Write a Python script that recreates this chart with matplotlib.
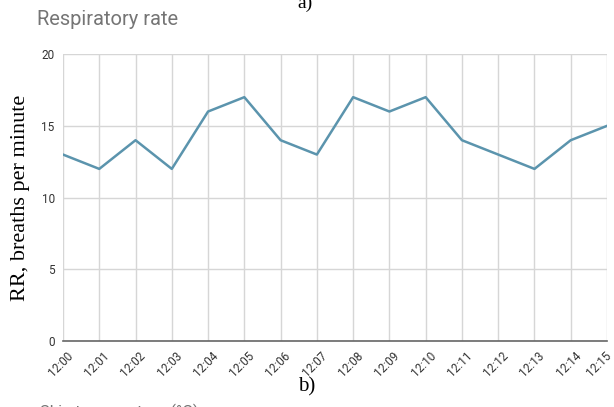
import matplotlib
matplotlib.use("Agg")
import matplotlib.pyplot as plt
from matplotlib.transforms import ScaledTranslation

# minute-by-minute respiratory rate
times = ["12:00", "12:01", "12:02", "12:03", "12:04", "12:05", "12:06", "12:07",
         "12:08", "12:09", "12:10", "12:11", "12:12", "12:13", "12:14", "12:15"]
rr = [13, 12, 14, 12, 16, 17, 14, 13, 17, 16, 17, 14, 13, 12, 14, 15]
yticks = [0, 5, 10, 15, 20]

fig = plt.figure(figsize=(6.14, 4.07), dpi=100)
ax = fig.add_axes([0.1026, 0.162, 0.886, 0.705])

x = list(range(len(times)))
ax.plot(x, rr, color="#5b94ad", linewidth=1.8, zorder=3)

ax.set_xlim(0, len(times) - 1)
ax.set_ylim(0, 20)
ax.set_xticks(x)
ax.set_xticklabels(times, rotation=45, ha="right", rotation_mode="anchor",
                   fontsize=8.5, color="#333333", family="Roboto")
ax.set_yticks(yticks)
ax.set_yticklabels([str(v) for v in yticks], fontsize=8.5, color="#333333", family="Roboto")
ax.tick_params(axis="x", length=0, pad=6)
ax.tick_params(axis="y", length=0, pad=6)

# shift rotated labels a bit to the right, like the sheets chart
# (the last one stays put so it is not cut at the edge)
labels = ax.get_xticklabels()
for i, lab in enumerate(labels):
    dx = 2.5 if i < len(labels) - 1 else -1.5
    lab.set_transform(lab.get_transform() + ScaledTranslation(dx / 72, 0, fig.dpi_scale_trans))

ax.grid(True, color="#d6d6d6", linewidth=1)
ax.set_axisbelow(True)
for side in ["top", "right", "left"]:
    ax.spines[side].set_visible(False)
ax.spines["bottom"].set_color("#666666")
ax.spines["bottom"].set_linewidth(1.2)
ax.spines["bottom"].set_zorder(4)

ax.set_ylabel("RR, breaths per minute", family="Liberation Serif", fontsize=16, color="black", labelpad=8)

fig.text(0.06, 0.953, "Respiratory rate", family="Roboto", fontsize=14.5, color="#757575", va="center")
fig.text(0.497, 0.993, "a)", family="Liberation Serif", fontsize=14, ha="center", va="center")
fig.text(0.5, 0.05, "b)", family="Liberation Serif", fontsize=15, ha="center", va="center")
fig.text(0.065, -0.012, "Skin temperature (°C)", family="Roboto", fontsize=12, color="#757575", va="center")

fig.savefig("out.png", dpi=100)
